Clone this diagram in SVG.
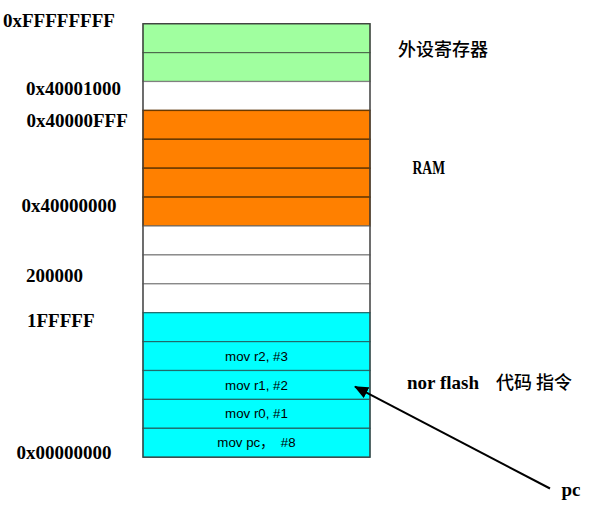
<svg xmlns="http://www.w3.org/2000/svg" width="605" height="515" viewBox="0 0 605 515">
  <style>
    .addr { font-family: "Liberation Serif", "Times New Roman", serif; font-weight: bold; font-size: 19px; fill: #000; }
    .cjk { font-family: "Noto Sans CJK SC", sans-serif; font-size: 18px; font-weight: 500; fill: #000; }
    .op { font-family: "Liberation Sans", Arial, "Noto Sans CJK SC", sans-serif; font-size: 13.3px; fill: #000; text-anchor: middle; }
    .green { fill: #a0ff9f; stroke: #4d6b4d; stroke-width: 1.2; }
    .white { fill: #ffffff; stroke: #808080; stroke-width: 1.2; }
    .orange { fill: #ff8000; stroke: #6b3a00; stroke-width: 1.4; }
    .cyan { fill: #00ffff; stroke: #1f6b6b; stroke-width: 1.2; }
  </style>
  <defs>
    <marker id="head" markerWidth="14" markerHeight="12" refX="13" refY="6" orient="auto" markerUnits="userSpaceOnUse">
      <path d="M0,0 L14,6 L0,12 Z" fill="#000"/>
    </marker>
  </defs>

  <rect width="605" height="515" fill="#ffffff"/>

  <!-- memory map cells, top (high addresses) to bottom -->
  <g id="memory-map">
    <g id="periph-1"><rect class="green" x="143" y="23.7" width="227" height="28.9"/></g>
    <g id="periph-2"><rect class="green" x="143" y="52.6" width="227" height="28.9"/></g>
    <g id="gap-1"><rect class="white" x="143" y="81.5" width="227" height="28.9"/></g>
    <g id="ram-1"><rect class="orange" x="143" y="110.4" width="227" height="28.9"/></g>
    <g id="ram-2"><rect class="orange" x="143" y="139.3" width="227" height="28.9"/></g>
    <g id="ram-3"><rect class="orange" x="143" y="168.2" width="227" height="28.9"/></g>
    <g id="ram-4"><rect class="orange" x="143" y="197.1" width="227" height="28.9"/></g>
    <g id="gap-2"><rect class="white" x="143" y="226" width="227" height="28.9"/></g>
    <g id="gap-3"><rect class="white" x="143" y="254.9" width="227" height="28.9"/></g>
    <g id="gap-4"><rect class="white" x="143" y="283.8" width="227" height="28.9"/></g>
    <g id="flash-1"><rect class="cyan" x="143" y="312.7" width="227" height="28.9"/></g>
    <g id="flash-2">
      <rect class="cyan" x="143" y="341.6" width="227" height="28.9"/>
      <text class="op" x="256.5" y="360.6">mov r2, #3</text>
    </g>
    <g id="flash-3">
      <rect class="cyan" x="143" y="370.5" width="227" height="28.9"/>
      <text class="op" x="256.5" y="389.5">mov r1, #2</text>
    </g>
    <g id="flash-4">
      <rect class="cyan" x="143" y="399.4" width="227" height="28.9"/>
      <text class="op" x="256.5" y="418.4">mov r0, #1</text>
    </g>
    <g id="flash-5">
      <rect class="cyan" x="143" y="428.3" width="227" height="28.9"/>
      <text class="op" x="256.5" y="447.3" xml:space="preserve">mov pc，  #8</text>
    </g>
    <rect x="143" y="23.7" width="227" height="433.5" fill="none" stroke="#404040" stroke-width="1.2"/>
  </g>

  <!-- address labels -->
  <g id="addresses">
    <text class="addr" x="3" y="26.5">0xFFFFFFFF</text>
    <text class="addr" x="26" y="95">0x40001000</text>
    <text class="addr" x="26.5" y="126.5">0x40000FFF</text>
    <text class="addr" x="21.5" y="212">0x40000000</text>
    <text class="addr" x="26" y="282">200000</text>
    <text class="addr" x="27" y="327">1FFFFF</text>
    <text class="addr" x="16.5" y="458.5">0x00000000</text>
  </g>

  <!-- region labels -->
  <g id="regions">
    <text class="cjk" x="398" y="56">外设寄存器</text>
    <text class="addr" x="412.5" y="174" font-size="17" textLength="32.5" lengthAdjust="spacingAndGlyphs">RAM</text>
    <text x="407" y="388.5"><tspan class="addr">nor flash</tspan><tspan class="cjk" x="496" y="389">代码 指令</tspan></text>
  </g>

  <!-- program counter pointer -->
  <g id="pc">
    <text class="addr" x="561.5" y="496">pc</text>
  </g>
  <g id="connectors">
    <line x1="550" y1="488.5" x2="355" y2="386.7" stroke="#000" stroke-width="2" marker-end="url(#head)"/>
  </g>
</svg>
